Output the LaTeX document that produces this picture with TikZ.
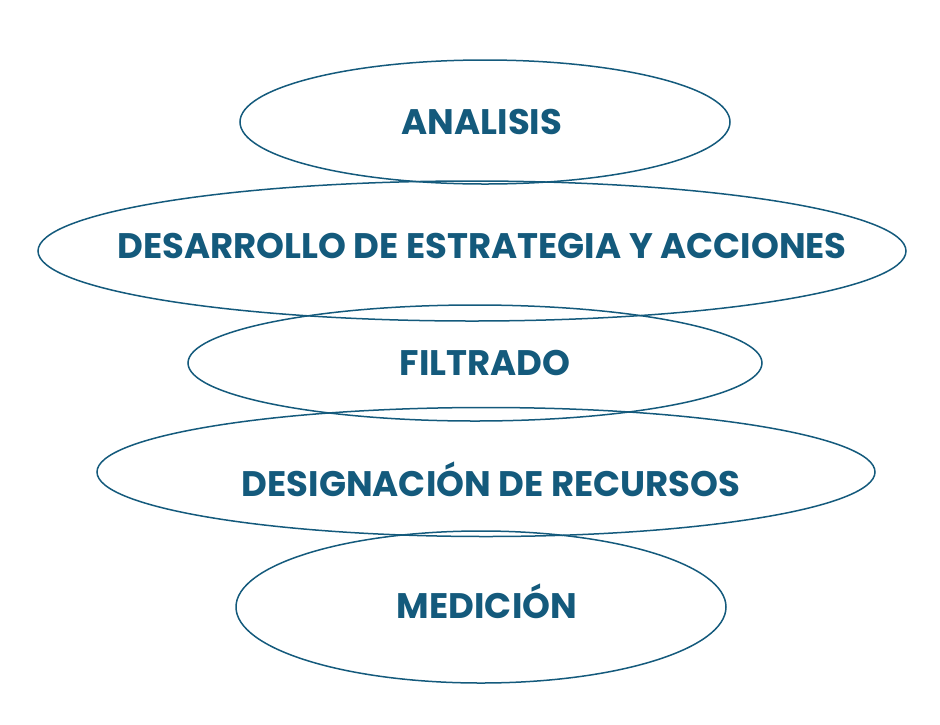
\documentclass[tikz,border=0pt]{standalone}
\usepackage{fontspec}
\setmainfont{Poppins}
\usetikzlibrary{shapes.geometric}
\definecolor{stagecol}{HTML}{145A7C}
\tikzset{
  stage/.style={ellipse, draw=stagecol, line width=1.5pt, inner sep=0pt},
  stagetext/.style={text=stagecol, font=\fontsize{35.5}{40}\selectfont\bfseries},
}

\begin{document}
\begin{tikzpicture}[x=1pt,y=-1pt]
\useasboundingbox (0,0) rectangle (940,724);
% stages, top to bottom
\node[stage, minimum width=490pt, minimum height=124pt] (analisis) at (485,122) {};
\node[stage, minimum width=868pt, minimum height=140pt] (desarrollo) at (472,251) {};
\node[stage, minimum width=574pt, minimum height=116pt] (filtrado) at (475,363) {};
\node[stage, minimum width=778pt, minimum height=129pt] (designacion) at (486,472) {};
\node[stage, minimum width=490pt, minimum height=152pt] (medicion) at (481,607) {};

% labels
\node[stagetext] (analisis-t) at (482,122) {ANALISIS};
\node[stagetext] (desarrollo-t) at (482,246) {DESARROLLO DE ESTRATEGIA Y ACCIONES};
\node[stagetext] (filtrado-t) at (485,363) {FILTRADO};
\node[stagetext] (designacion-t) at (491,479) {DESIGNACIÓN DE RECURSOS};
\node[stagetext] (medicion-t) at (487,601) {MEDICIÓN};
\end{tikzpicture}
\end{document}
